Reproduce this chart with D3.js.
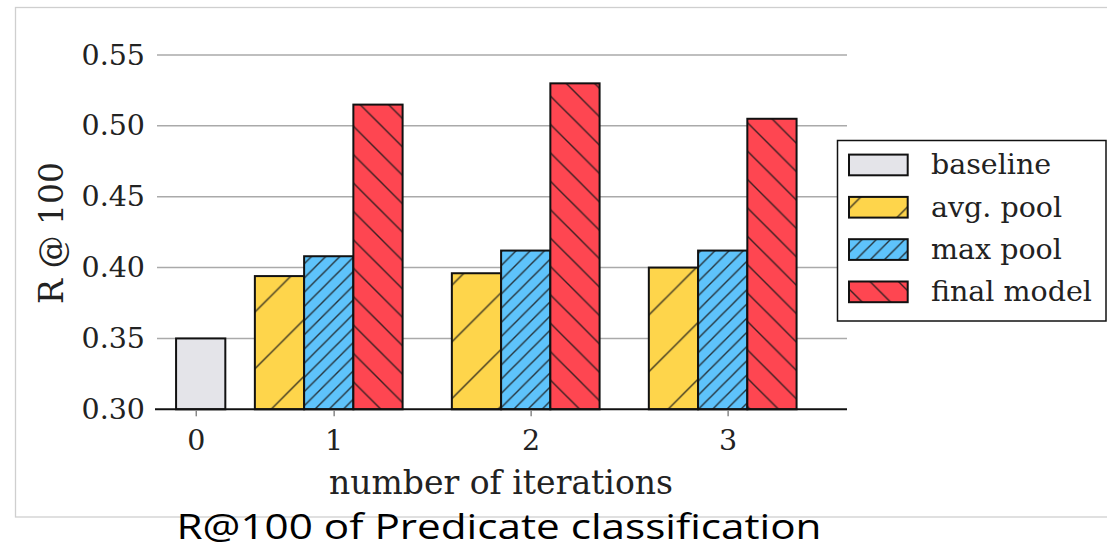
<!DOCTYPE html>
<html>
<head>
<meta charset="utf-8">
<script src="https://cdn.jsdelivr.net/npm/d3@7"></script>
<style>
body{margin:0;background:#fff;}
svg{display:block;}
</style>
</head>
<body>
<div id="chartwrap"></div>
<script>
//values
var iterations = ["0","1","2","3"];
var baselineVals = [0.350];
var avgPoolVals = [0.394, 0.396, 0.400];
var maxPoolVals = [0.408, 0.412, 0.412];
var finalModelVals = [0.515, 0.530, 0.505];
var seriesNames = ["baseline","avg. pool","max pool","final model"];
var yTicks = [0.30, 0.35, 0.40, 0.45, 0.50, 0.55];
var xLabel = "number of iterations";
var yLabel = "R @ 100";
var title = "R@100 of Predicate classification";

var chart = {};
chart.width = 1107;
chart.height = 549;
chart.serif = "'DejaVu Serif', serif";
chart.ink = "#222";
chart.colors = ["#e4e4e9","#fed54b","#5ec3fb","#fe4651"];
chart.hatch = [null, {dir:"/", p:56.7}, {dir:"/", p:14.2}, {dir:"\\", p:28.4}];
chart.barw = 0.25; //bar width in x units

chart.svg = d3.select("#chartwrap").append("svg")
	.attr("width", chart.width).attr("height", chart.height);

//x is in "bar units": tick 0 at 0, later ticks 1 apart starting at 0.7
chart.tickpos = function(i){return i==0 ? 0 : i - 0.3};
chart.x = d3.scaleLinear().domain([-0.207, 3.306]).range([155, 847]);
chart.y = d3.scaleLinear().domain([0.30, 0.55]).range([409.3, 55]);

//hatch patterns (user space so they line up like matplotlib's)
var defs = chart.svg.append("defs");
chart.hatch.forEach(function(h, i){
	if(!h){return null;}
	var p = h.p;
	var pat = defs.append("pattern").attr("id","hatch"+i)
		.attr("patternUnits","userSpaceOnUse").attr("width",p).attr("height",p);
	pat.append("rect").attr("width",p).attr("height",p).attr("fill",chart.colors[i]);
	var d = h.dir=="/" ?
		"M0,"+p+"L"+p+",0M-2,2L2,-2M"+(p-2)+","+(p+2)+"L"+(p+2)+","+(p-2) :
		"M0,0L"+p+","+p+"M-2,"+(p-2)+"L2,"+(p+2)+"M"+(p-2)+",-2L"+(p+2)+",2";
	pat.append("path").attr("d",d).attr("stroke","#1a1a1a").attr("stroke-opacity",0.85)
		.attr("stroke-width",1.4).attr("fill","none");
});
chart.fill = function(i){return chart.hatch[i] ? "url(#hatch"+i+")" : chart.colors[i]};

//figure frame
chart.svg.append("rect").attr("x",15.5).attr("y",7.5).attr("width",1200).attr("height",509.5)
	.attr("fill","none").attr("stroke","#cfcfcf").attr("stroke-width",1.3);

//gridlines
chart.svg.append("g").selectAll("line").data(yTicks.slice(1)).enter().append("line")
	.attr("x1",157).attr("x2",847)
	.attr("y1",function(d){return chart.y(d)}).attr("y2",function(d){return chart.y(d)})
	.attr("stroke","#aaaaaa").attr("stroke-width",1.5);

//bars: baseline alone at iteration 0, three series at iterations 1-3
var bars = [];
bars.push({s:0, x0:chart.tickpos(0) - 0.1, v:baselineVals[0]});
[avgPoolVals, maxPoolVals, finalModelVals].forEach(function(vals, k){
	vals.forEach(function(v, g){
		bars.push({s:k+1, x0:chart.tickpos(g+1) - 0.4 + k*chart.barw, v:v});
	});
});
chart.svg.append("g").selectAll("rect").data(bars).enter().append("rect")
	.attr("x",function(d){return chart.x(d.x0)})
	.attr("width",function(d){return chart.x(d.x0+chart.barw) - chart.x(d.x0)})
	.attr("y",function(d){return chart.y(d.v)})
	.attr("height",function(d){return chart.y(0.30) - chart.y(d.v)})
	.attr("fill",function(d){return chart.fill(d.s)})
	.attr("stroke","#111").attr("stroke-width",2);

//x axis
var xaxis = chart.svg.append("g").attr("transform","translate(0,"+chart.y(0.30)+")")
	.call(d3.axisBottom(chart.x)
		.tickValues(iterations.map(function(d,i){return chart.tickpos(i)}))
		.tickFormat(function(d,i){return iterations[i]})
		.tickSize(7).tickPadding(13));
xaxis.select(".domain").attr("d","M155,0H847").attr("stroke","#111").attr("stroke-width",2);
xaxis.selectAll(".tick line").attr("stroke","#888").attr("stroke-width",1.5).attr("y1",1);
xaxis.selectAll("text").attr("font-family",chart.serif).attr("font-size",28.5).attr("fill",chart.ink);

//y axis labels only
var yaxis = chart.svg.append("g").attr("transform","translate(157,0)")
	.call(d3.axisLeft(chart.y).tickValues(yTicks).tickFormat(d3.format(".2f")).tickSize(0).tickPadding(12));
yaxis.select(".domain").remove();
yaxis.selectAll("text").attr("font-family",chart.serif).attr("font-size",28.5).attr("fill",chart.ink);

//axis titles
chart.svg.append("text").attr("x",501).attr("y",494).attr("text-anchor","middle")
	.attr("font-family",chart.serif).attr("font-size",33).attr("fill",chart.ink).text(xLabel);
chart.svg.append("text").attr("transform","translate(63,233) rotate(-90)").attr("text-anchor","middle")
	.attr("font-family",chart.serif).attr("font-size",33).attr("fill",chart.ink).text(yLabel);

//legend
var legend = chart.svg.append("g");
legend.append("rect").attr("x",837.5).attr("y",140.5).attr("width",268.5).attr("height",180.5)
	.attr("fill","#fff").attr("stroke","#111").attr("stroke-width",1.5);
var items = legend.selectAll("g.item").data(seriesNames).enter().append("g").classed("item",true)
	.attr("transform",function(d,i){return "translate(0,"+(165 + i*42.3)+")"});
items.append("rect").attr("x",849).attr("y",-10.4).attr("width",58.7).attr("height",20.7)
	.attr("fill",function(d,i){return chart.fill(i)}).attr("stroke","#111").attr("stroke-width",2);
items.append("text").attr("x",931).attr("dy","0.33em")
	.attr("font-family",chart.serif).attr("font-size",28.5).attr("fill",chart.ink).text(function(d){return d});

//caption under the figure
chart.svg.append("text").attr("x",499).attr("y",539).attr("text-anchor","middle")
	.attr("font-family","'Open Sans', sans-serif").attr("font-size",34).attr("fill","#000")
	.attr("textLength",645).attr("lengthAdjust","spacingAndGlyphs").text(title);
</script>
</body>
</html>
